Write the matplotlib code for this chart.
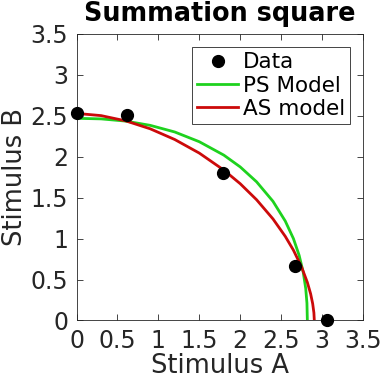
import numpy as np
import matplotlib.pyplot as plt

# Dados medidos
data_a = [0.0, 0.62, 1.79, 2.67, 3.06]
data_b = [2.54, 2.51, 1.80, 0.67, 0.0]

# Curva do modelo PS
ps_a = [0.0, 0.3, 0.6, 0.9, 1.2, 1.5, 1.8, 2.0, 2.2, 2.4, 2.55, 2.65, 2.72, 2.77, 2.80, 2.815, 2.82]
ps_b = [2.47, 2.463, 2.436, 2.384, 2.303, 2.184, 2.020, 1.876, 1.694, 1.456, 1.215, 1.000, 0.795, 0.587, 0.392, 0.212, 0.0]

as_a = [0.0, 0.3, 0.6, 0.9, 1.2, 1.5, 1.8, 2.0, 2.2, 2.4, 2.55, 2.65, 2.75, 2.82, 2.86, 2.885, 2.90, 2.905]
as_b = [2.53, 2.503, 2.439, 2.342, 2.211, 2.045, 1.837, 1.671, 1.475, 1.241, 1.028, 0.859, 0.652, 0.466, 0.326, 0.206, 0.094, 0.0]

ticks = [0, 0.5, 1, 1.5, 2, 2.5, 3, 3.5]
tick_labels = ['0', '0.5', '1', '1.5', '2', '2.5', '3', '3.5']

fig = plt.figure(figsize=(3.81, 3.82), dpi=100)
ax = fig.add_axes([0.2008, 0.161, 0.752, 0.750])

ax.plot(data_a, data_b, 'o', color='black', markersize=8.5, label='Data', clip_on=False, zorder=5)
ax.plot(ps_a, ps_b, color='#1ed21e', linewidth=2, label='PS Model')
ax.plot(as_a, as_b, color='#cc0a0a', linewidth=2, label='AS model')

ax.set_xlim(0, 3.5)
ax.set_ylim(0, 3.5)
ax.set_xticks(ticks)
ax.set_xticklabels(tick_labels)
ax.set_yticks(ticks)
ax.set_yticklabels(tick_labels)
ax.tick_params(direction='in', top=True, right=True, length=4, width=0.6,
               labelsize=17, colors='#262626')
ax.tick_params(axis='x', pad=6)
ax.tick_params(axis='y', pad=6)
for s in ax.spines.values():
    s.set_color('#262626')
    s.set_linewidth(0.6)

ax.set_xlabel('Stimulus A', fontsize=18.5, color='#262626', labelpad=0)
ax.set_ylabel('Stimulus B', fontsize=18.5, color='#262626', labelpad=2)
ax.set_title('Summation square', fontsize=18.4, fontweight='bold', pad=9)

leg = ax.legend(loc='upper right', fontsize=15.5, handlelength=1.9, handletextpad=0.2,
                borderpad=0.25, labelspacing=0.15, borderaxespad=0.6, fancybox=False,
                framealpha=1, edgecolor='#262626')
leg.get_frame().set_linewidth(0.6)

plt.savefig('out.png', dpi=100)
